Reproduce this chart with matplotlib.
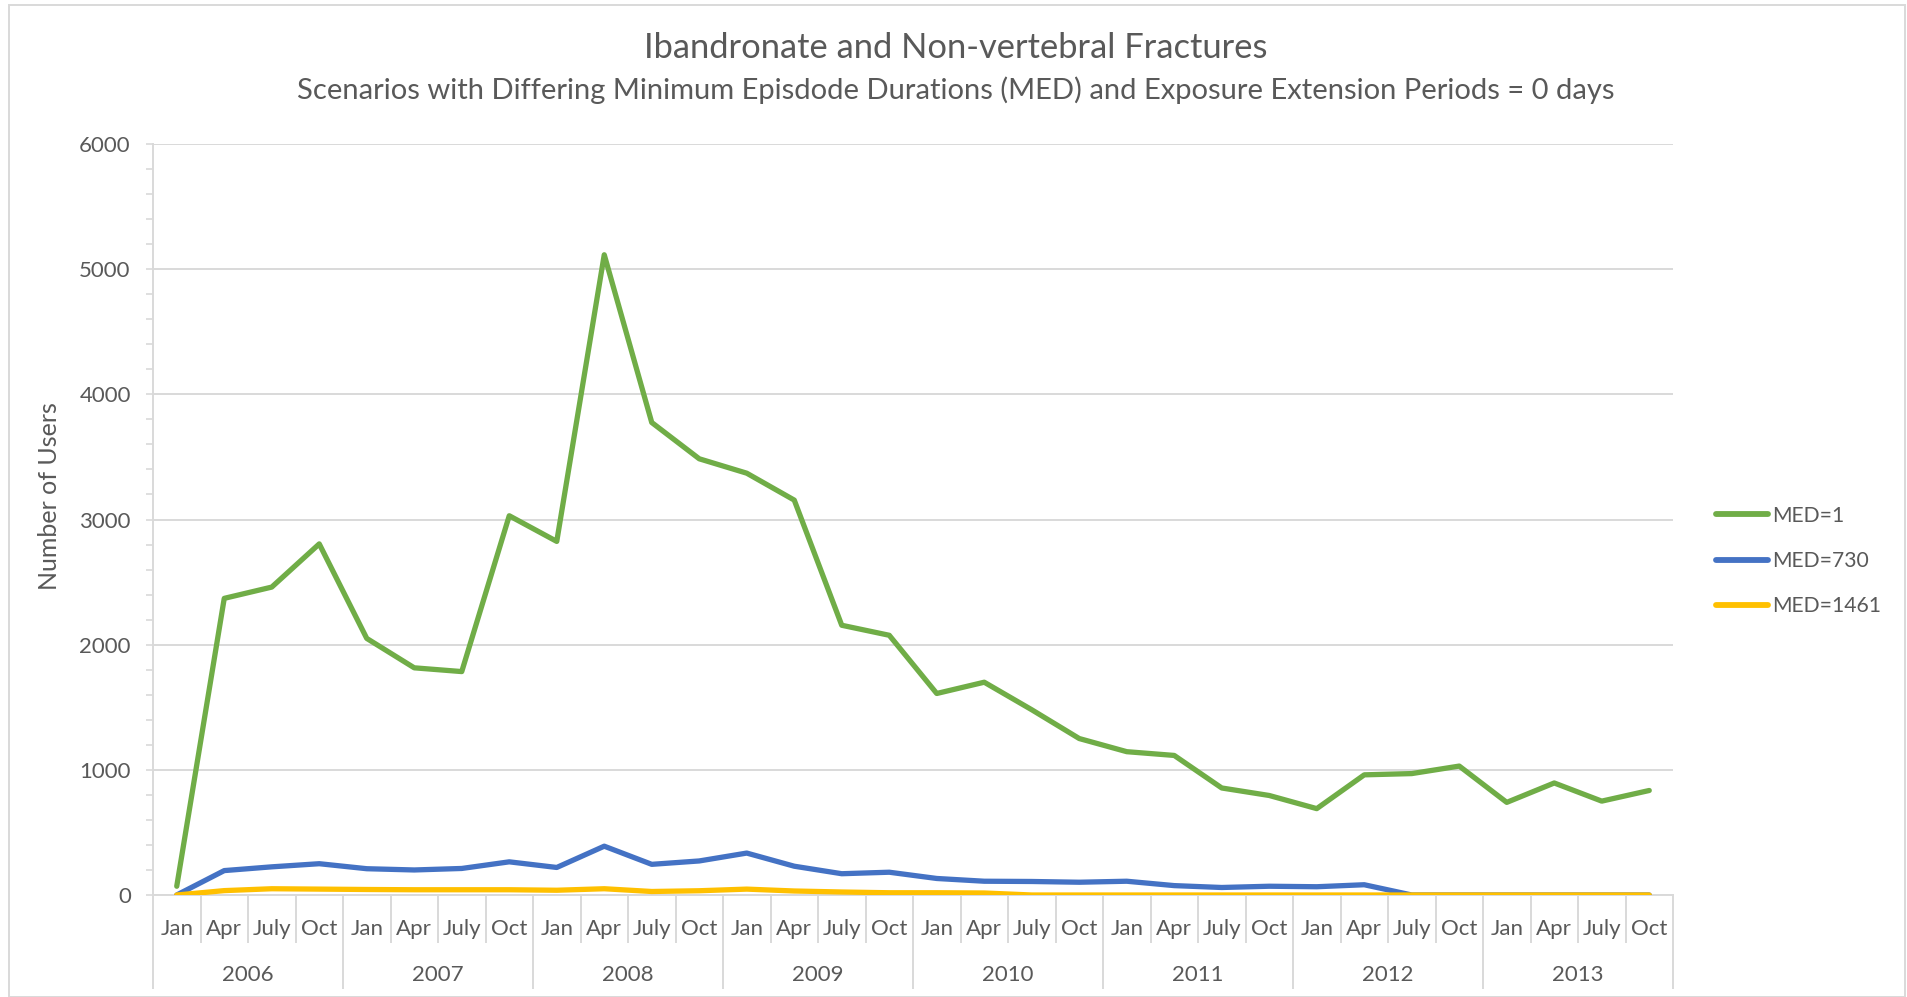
import matplotlib
matplotlib.use("Agg")
import matplotlib.pyplot as plt
import matplotlib.patches as mpatches
import matplotlib.transforms as mtransforms
from matplotlib.ticker import MultipleLocator

plt.rcParams['font.family'] = ['Lato', 'DejaVu Sans']

months = ['Jan', 'Apr', 'July', 'Oct']
years = ['2006', '2007', '2008', '2009', '2010', '2011', '2012', '2013']

med_1 = [70, 2370, 2460, 2805, 2050, 1815, 1785, 3030,
         2825, 5115, 3775, 3485, 3370, 3155, 2155, 2075,
         1610, 1700, 1480, 1250, 1145, 1115, 855, 795,
         690, 960, 970, 1030, 740, 895, 750, 835]
med_730 = [0, 195, 225, 250, 210, 200, 212, 265,
           220, 390, 245, 272, 335, 230, 170, 182,
           132, 110, 108, 102, 110, 75, 60, 70,
           66, 82, 0, 0, 0, 0, 0, 0]
med_1461 = [0, 35, 50, 47, 44, 42, 42, 42,
            38, 50, 28, 34, 47, 32, 24, 18,
            18, 16, 0, 0, 0, 0, 0, 0,
            0, 0, 0, 0, 0, 0, 0, 0]

series = [('MED=1', med_1, '#70AD47'),
          ('MED=730', med_730, '#4472C4'),
          ('MED=1461', med_1461, '#FFC000')]

grey = '#595959'
light = '#D9D9D9'

W, H = 1907, 997
fig = plt.figure(figsize=(W / 100, H / 100), dpi=100)
ax = fig.add_axes([153 / W, 1 - 895 / H, (1673 - 153) / W, (895 - 144) / H])

n = len(med_1)
x = list(range(n))
for label, vals, col in series:
    ax.plot(x, vals, color=col, lw=3.8, label=label,
            solid_capstyle='round', solid_joinstyle='round', zorder=3)

ax.set_xlim(-0.5, n - 0.5)
ax.set_ylim(0, 6000)
ax.yaxis.set_major_locator(MultipleLocator(1000))
ax.yaxis.set_minor_locator(MultipleLocator(200))
ax.grid(axis='y', color=light, lw=1.4, zorder=0)
ax.set_axisbelow(True)
ax.tick_params(axis='y', which='both', length=5, width=1.2, color=light,
               labelsize=16, labelcolor=grey, pad=11)
ax.tick_params(axis='x', bottom=False, labelbottom=False)
for s in ['top', 'right']:
    ax.spines[s].set_visible(False)
ax.spines['left'].set_color(light)
ax.spines['left'].set_linewidth(1.4)
ax.spines['bottom'].set_color(light)
ax.spines['bottom'].set_linewidth(1.4)

# two-level category axis
trans = mtransforms.blended_transform_factory(ax.transData, ax.transAxes)
y_month = -(942 - 895) / 751
y_year = -(988 - 895) / 751
for i in range(n + 1):
    bottom = y_year if i % 4 == 0 else y_month
    ax.plot([i - 0.5, i - 0.5], [0, bottom], color=light, lw=1.4,
            transform=trans, clip_on=False)
for i in range(n):
    ax.text(i, -(929 - 895) / 751, months[i % 4], transform=trans,
            ha='center', va='center', fontsize=16, color=grey)
for j, yr in enumerate(years):
    ax.text(j * 4 + 1.5, -(975 - 895) / 751, yr, transform=trans,
            ha='center', va='center', fontsize=16, color=grey)

fig.text(50 / W, 1 - 496 / H, 'Number of Users', rotation=90,
         ha='center', va='center', fontsize=18, color=grey)

fig.text(956 / W, 1 - 48 / H, 'Ibandronate and Non-vertebral Fractures',
         ha='center', va='center', fontsize=24.8, color=grey)
fig.text(956 / W, 1 - 90 / H,
         'Scenarios with Differing Minimum Episdode Durations (MED) and Exposure Extension Periods = 0 days',
         ha='center', va='center', fontsize=21, color=grey)

leg = ax.legend(loc='center left', bbox_to_anchor=(1716 / W, 1 - 561 / H),
                bbox_transform=fig.transFigure, frameon=False,
                fontsize=15.2, handlelength=2.45, handletextpad=0.2,
                labelspacing=1.2, borderaxespad=0, borderpad=0)
for t in leg.get_texts():
    t.set_color(grey)
for h in leg.get_lines():
    h.set_linewidth(4.2)

fig.patches.append(mpatches.Rectangle((9 / W, 0), (1905 - 9) / W, 1 - 5 / H,
                                      transform=fig.transFigure, fill=False,
                                      edgecolor=light, lw=1.4))

fig.savefig('out.png', dpi=100)
